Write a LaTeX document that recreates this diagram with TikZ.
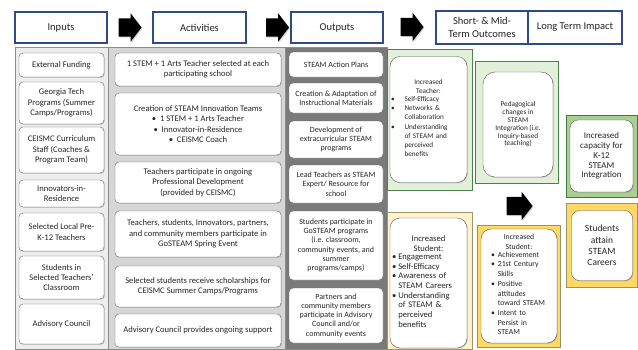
\documentclass[tikz,border=0pt]{standalone}
\usepackage{fontspec}
\setmainfont{Carlito}
\usetikzlibrary{shapes.arrows,shadows}
\definecolor{hdrblue}{HTML}{2F4A8A}
\definecolor{inbg}{HTML}{EDEDED}
\definecolor{actbg}{HTML}{D6D6D6}
\definecolor{outbg}{HTML}{7A7A7A}
\definecolor{greenlt}{HTML}{E2EFD9}
\definecolor{greendk}{HTML}{A9D08E}
\definecolor{yellowlt}{HTML}{FFF2CC}
\definecolor{yellowdk}{HTML}{FFD966}
\definecolor{txt}{HTML}{262626}

\begin{document}
\begin{tikzpicture}[x=1pt,y=-1pt,
  hdr/.style={draw=hdrblue,line width=1.6pt,fill=white,align=center,inner sep=0pt,
    text=txt,font=\fontsize{10.5}{12.7}\selectfont,
    drop shadow={shadow xshift=1pt,shadow yshift=-1pt,opacity=0.3}},
  item/.style={draw=black!60,fill=white,rounded corners=4pt,align=center,inner sep=0pt,
    text=txt,font=\fontsize{8.6}{10.4}\selectfont,
    drop shadow={shadow xshift=0.8pt,shadow yshift=-0.8pt,opacity=0.35}},
  outcome/.style={draw=black!65,fill=white,rounded corners=10pt,align=center,inner sep=0pt,
    text=txt,font=\fontsize{8.6}{9.7}\selectfont,
    drop shadow={shadow xshift=0.8pt,shadow yshift=-0.8pt,opacity=0.35}},
  panel/.style={draw=black!45,line width=0.6pt},
  fatarrow/.style={single arrow,fill=black,inner xsep=0pt,inner ysep=9pt,minimum height=23pt,
    single arrow head extend=5pt,single arrow tip angle=105,
    drop shadow={shadow xshift=1pt,shadow yshift=-1pt,opacity=0.3}}]
  \useasboundingbox (0,0) rectangle (638,349);

  % column panels
  \filldraw[panel,fill=inbg] (15,47) rectangle (108,349);
  \filldraw[panel,fill=actbg] (108,47) rectangle (285,349);
  \filldraw[panel,fill=outbg] (285,47) rectangle (387,349);

  % outcome panels
  \filldraw[draw=black!50!green!40!gray,fill=greenlt] (387,49) rectangle (472,190);
  \filldraw[draw=black!50!green!40!gray,fill=greenlt] (475,61) rectangle (558,183);
  \filldraw[draw=black!55!green!50!gray,fill=greendk] (566,115) rectangle (637.5,197);
  \filldraw[draw=black!40!yellow!50!gray,fill=yellowlt] (387,212) rectangle (472,349);
  \filldraw[draw=black!45!yellow!50!gray,fill=yellowdk] (477,225) rectangle (560,347);
  \filldraw[draw=black!45!yellow!50!gray,fill=yellowdk] (566,203) rectangle (637.5,287);

  % headers
  \node[hdr,minimum width=92pt,minimum height=31pt] (hin) at (61,27.5) {Inputs};
  \node[hdr,minimum width=93pt,minimum height=31pt] (hact) at (199.5,27.5) {Activities};
  \node[hdr,minimum width=92pt,minimum height=31pt] (hout) at (337,27.5) {Outputs};
  \node[hdr,minimum width=92pt,minimum height=33pt] (hshort) at (482,27.5) {Short- \& Mid-\\Term Outcomes};
  \node[hdr,minimum width=94pt,minimum height=33pt] (hlong) at (575,27.5) {Long Term Impact};

  % block arrows
  \node[fatarrow] (arrin) at (126.5,27.5) {};
  \node[fatarrow] (arract) at (274,27.5) {};
  \node[fatarrow] (arrout) at (408.5,27) {};
  \node[fatarrow,minimum height=26pt] (arrstud) at (516,206) {};

  % inputs
  \node[item,minimum width=85pt,minimum height=24pt] (funding) at (61.5,65) {External Funding};
  \node[item,minimum width=85pt,minimum height=42pt] (gatech) at (61.5,103) {Georgia Tech\\Programs (Summer\\Camps/Programs)};
  \node[item,minimum width=85pt,minimum height=46pt] (staff) at (61.5,150) {CEISMC Curriculum\\Staff (Coaches \&\\Program Team)};
  \node[item,minimum width=85pt,minimum height=27pt] (innov) at (61.5,193.5) {Innovators-in-\\Residence};
  \node[item,minimum width=85pt,minimum height=38pt] (teach) at (61.5,232) {Selected Local Pre-\\K-12 Teachers};
  \node[item,minimum width=85pt,minimum height=43pt] (stud) at (61.5,277.5) {Students in\\Selected Teachers'\\Classroom};
  \node[item,minimum width=85pt,minimum height=40pt] (council) at (61.5,324) {Advisory Council};

  % activities
  \node[item,minimum width=166pt,minimum height=33pt] (select) at (198,69.5) {1 STEM + 1 Arts Teacher selected at each\\participating school};
  \node[item,minimum width=166pt,minimum height=62pt,font=\fontsize{8.6}{10.6}\selectfont] (teams) at (198,124) {Creation of STEAM Innovation Teams\\\textbullet\ \ 1 STEM + 1 Arts Teacher\\\textbullet\ \ Innovator-in-Residence\\\textbullet\ \ CEISMC Coach};
  \node[item,minimum width=166pt,minimum height=41pt] (profdev) at (198,182.5) {Teachers participate in ongoing\\Professional Development\\(provided by CEISMC)};
  \node[item,minimum width=166pt,minimum height=46pt] (spring) at (198,234) {Teachers, students, Innovators, partners,\\and community members participate in\\GoSTEAM Spring Event};
  \node[item,minimum width=166pt,minimum height=41pt] (scholar) at (198,286.5) {Selected students receive scholarships for\\CEISMC Summer Camps/Programs};
  \node[item,minimum width=166pt,minimum height=33pt] (support) at (198,330.5) {Advisory Council provides ongoing support};

  % outputs
  \node[item,minimum width=94pt,minimum height=25pt,font=\fontsize{8}{9}\selectfont] (plans) at (336,64.5) {STEAM Action Plans};
  \node[item,minimum width=94pt,minimum height=30pt,font=\fontsize{8}{9}\selectfont] (materials) at (336,98) {Creation \& Adaptation of\\Instructional Materials};
  \node[item,minimum width=94pt,minimum height=37pt,font=\fontsize{8}{9.3}\selectfont] (extra) at (336,139.5) {Development of\\extracurricular STEAM\\programs};
  \node[item,minimum width=94pt,minimum height=38pt,font=\fontsize{8}{9.3}\selectfont] (lead) at (336,184) {Lead Teachers as STEAM\\Expert/ Resource for\\school};
  \node[item,minimum width=94pt,minimum height=69pt,font=\fontsize{8}{9.3}\selectfont] (programs) at (336,245.5) {Students participate in\\GoSTEAM programs\\(i.e. classroom,\\community events, and\\summer\\programs/camps)};
  \node[item,minimum width=94pt,minimum height=55pt,font=\fontsize{8}{9.3}\selectfont] (partners) at (336,315.5) {Partners and\\community members\\participate in Advisory\\Council and/or\\community events};

  % outcomes and impact
  \node[outcome,minimum height=126pt,text width=77pt,font=\fontsize{7.2}{9.3}\selectfont] (teachout) at (428.5,119.5) {Increased\\Teacher:\\
    \makebox[\linewidth][l]{\begin{tabular}{@{\hspace{1pt}}l@{\hspace{10pt}}l@{}}
      \textbullet & Self-Efficacy\\
      \textbullet & Networks \&\\
      & Collaboration\\
      \textbullet & Understanding\\
      & of STEAM and\\
      & perceived\\
      & benefits
    \end{tabular}}};
  \node[outcome,minimum width=70pt,minimum height=105pt,rounded corners=12pt,font=\fontsize{7.25}{7.8}\selectfont] (pedag) at (518,124.5) {Pedagogical\\changes in\\STEAM\\Integration (i.e.\\Inquiry-based\\teaching)};
  \node[outcome,minimum width=63pt,minimum height=72pt,rounded corners=8pt,font=\fontsize{9}{9.7}\selectfont] (capacity) at (601.5,156) {Increased\\capacity for\\K-12\\STEAM\\Integration};
  \node[outcome,minimum height=130pt,text width=77pt] (studout) at (428.5,283) {Increased\\Student:\\
    \makebox[\linewidth][l]{\begin{tabular}{@{\hspace{2pt}}l@{\hspace{2pt}}l@{}}
      \textbullet & Engagement\\
      \textbullet & Self-Efficacy\\
      \textbullet & Awareness of\\
      & STEAM Careers\\
      \textbullet & Understanding\\
      & of STEAM \&\\
      & perceived\\
      & benefits
    \end{tabular}}};
  \node[outcome,minimum height=114pt,text width=76pt,font=\fontsize{7.75}{9.7}\selectfont] (studach) at (519,286) {Increased\\Student:\\
    \makebox[\linewidth][l]{\begin{tabular}{@{\hspace{10pt}}l@{\hspace{3pt}}l@{}}
      \textbullet & Achievement\\
      \textbullet & 21st Century\\
      & Skills\\
      \textbullet & Positive\\
      & attitudes\\
      & toward STEAM\\
      \textbullet & Intent to\\
      & Persist in\\
      & STEAM
    \end{tabular}}};
  \node[outcome,minimum width=61pt,minimum height=70pt,rounded corners=8pt,font=\fontsize{9.5}{11.3}\selectfont] (careers) at (602,245.5) {Students\\attain\\STEAM\\Careers};
\end{tikzpicture}
\end{document}
